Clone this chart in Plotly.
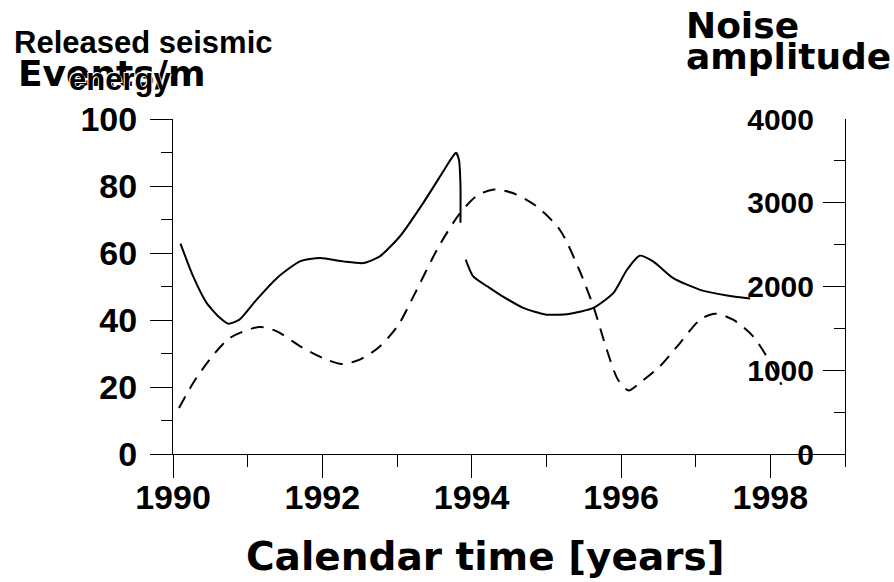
import plotly.graph_objects as go

# Solid curve: events per month (left axis), drawn as two pieces around late 1993
events_year = [1990.10, 1990.27, 1990.45, 1990.62, 1990.74, 1990.89, 1991.12, 1991.39, 1991.70,
               1991.97, 1992.28, 1992.55, 1992.77, 1993.04, 1993.35, 1993.62, 1993.74, 1993.79,
               1993.83, 1993.85, 1993.85,
               None,
               1993.92, 1994.02, 1994.24, 1994.42, 1994.69, 1995.00, 1995.30, 1995.63,
               1995.90, 1996.08, 1996.25, 1996.43, 1996.70, 1997.06, 1997.42, 1997.73]
events_value = [62.8, 53.0, 45.1, 40.8, 38.9, 40.1, 46.1, 52.5, 57.5,
                58.5, 57.5, 57.0, 59.0, 65.0, 74.9, 84.4, 88.6, 89.9,
                87.8, 80.0, 69.0,
                None,
                58.0, 53.0, 49.6, 47.0, 43.6, 41.6, 41.8, 43.6,
                48.1, 55.0, 59.2, 57.5, 52.5, 49.0, 47.3, 46.4]

# Dashed curve: noise amplitude (right axis)
noise_year = [1990.08, 1990.27, 1990.49, 1990.76, 1991.16, 1991.39, 1991.74, 1992.06, 1992.26,
              1992.50, 1992.77, 1993.02, 1993.22, 1993.56, 1993.83, 1994.06, 1994.28, 1994.55,
              1994.87, 1995.18, 1995.44, 1995.63, 1995.81, 1995.96, 1996.10, 1996.25, 1996.52,
              1996.79, 1997.06, 1997.26, 1997.50, 1997.77, 1997.95, 1998.15]
noise_value = [549, 848, 1126, 1385, 1516, 1464, 1266, 1126, 1075,
               1126, 1285, 1544, 1882, 2479, 2857, 3076, 3156, 3116,
               2957, 2678, 2200, 1762, 1245, 887, 759, 848, 1046,
               1325, 1604, 1675, 1604, 1404, 1165, 827]

TICK_FONT = dict(family="Arial, Liberation Sans, sans-serif", size=34, color="black", weight="bold")
WIDE_FONT = dict(family="DejaVu Sans, sans-serif", size=36, color="black", weight="bold")

fig = go.Figure()
fig.add_trace(go.Scatter(x=events_year, y=events_value, mode="lines",
                         line=dict(color="black", width=2, shape="spline", smoothing=0.6),
                         connectgaps=False, showlegend=False, yaxis="y"))
fig.add_trace(go.Scatter(x=noise_year, y=noise_value, mode="lines",
                         line=dict(color="black", width=2, dash="13px,9px", shape="spline", smoothing=0.8),
                         showlegend=False, yaxis="y2"))

L, R, T, B = 173.3, 845.0, 119.3, 454.3
W, H = 894, 582


def px_x(p):
    return (p - L) / (R - L)


def px_y(p):
    return (B - p) / (B - T)


fig.update_layout(
    width=W, height=H,
    margin=dict(l=L, r=W - R, t=T, b=H - B, pad=0),
    paper_bgcolor="white", plot_bgcolor="white",
    xaxis=dict(range=[1990, 1999], tickmode="linear", tick0=1990, dtick=2, ticks="outside", ticklen=23,
               tickcolor="black", tickwidth=1, showline=True, linecolor="black", linewidth=1,
               showgrid=False, zeroline=False, tickfont=TICK_FONT, ticklabelstandoff=-10,
               ticklabeloverflow="allow",
               minor=dict(dtick=1, tick0=1990, ticks="outside", ticklen=12,
                          tickcolor="black", tickwidth=1, showgrid=False)),
    yaxis=dict(range=[0, 100], tickmode="linear", tick0=0, dtick=20, ticks="outside", ticklen=22,
               tickcolor="black", tickwidth=1, showline=True, linecolor="black", linewidth=1,
               showgrid=False, zeroline=False, tickfont=TICK_FONT, ticklabelstandoff=6,
               minor=dict(dtick=10, tick0=0, ticks="outside", ticklen=11,
                          tickcolor="black", tickwidth=1, showgrid=False)),
    yaxis2=dict(range=[0, 4000], tickmode="linear", tick0=0, dtick=1000, overlaying="y", side="right",
                anchor="x", ticks="inside", ticklen=22, ticklabelposition="inside",
                ticklabeloverflow="allow", ticklabelstandoff=12,
                tickcolor="black", tickwidth=1, showline=True, linecolor="black", linewidth=1,
                showgrid=False, zeroline=False, tickfont=dict(TICK_FONT, size=30),
                minor=dict(dtick=500, tick0=0, ticks="inside", ticklen=11,
                           tickcolor="black", tickwidth=1, showgrid=False)),
)

labels = [
    ("Released seismic", 12.7, 42.5, dict(TICK_FONT, size=31), "left"),
    ("Events/m", 16.7, 74.0, WIDE_FONT, "left"),
    ("energy", 67.0, 80.0, dict(TICK_FONT, size=31, shadow="1px 1px 0px white, -1px -1px 0px white"), "left"),
    ("Noise", 684.0, 26.0, WIDE_FONT, "left"),
    ("amplitude", 684.0, 57.0, WIDE_FONT, "left"),
    ("Calendar time [years]", 485.5, 557.0, dict(WIDE_FONT, size=39), "center"),
]
for text, x, y, font, anchor in labels:
    fig.add_annotation(text=text, x=px_x(x), y=px_y(y), xref="paper", yref="paper",
                       xanchor=anchor, yanchor="middle", showarrow=False, font=font)

fig.write_html("out.html")
